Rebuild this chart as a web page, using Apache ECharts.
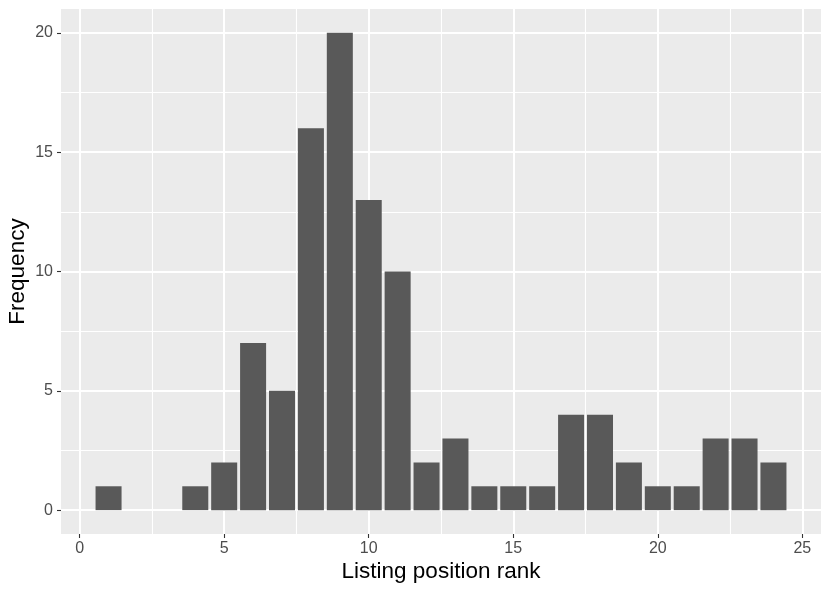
<!DOCTYPE html>
<html lang="en">
<head>
    <meta charset="UTF-8">
    <title>Listing position rank histogram</title>
    <script src="https://cdnjs.cloudflare.com/ajax/libs/echarts/6.0.0/echarts.min.js"></script>
    <style>
        body { margin: 0; background: #fff; }
        #chart { width: 830px; height: 593px; }
    </style>
</head>
<body>
<div id="chart"></div>
<script>
    // rank position -> how many listings
    const ranks = [1, 2, 3, 4, 5, 6, 7, 8, 9, 10, 11, 12, 13, 14, 15, 16, 17, 18, 19, 20, 21, 22, 23, 24];
    const counts = [1, 0, 0, 1, 2, 7, 5, 16, 20, 13, 10, 2, 3, 1, 1, 1, 4, 4, 2, 1, 1, 3, 3, 2];
    const xTicks = [0, 5, 10, 15, 20, 25];
    const xMinor = [2.5, 7.5, 12.5, 17.5, 22.5];
    const yTicks = [0, 5, 10, 15, 20];
    const yMinor = [2.5, 7.5, 12.5, 17.5];

    const chart = echarts.init(document.getElementById('chart'));
    const gridW = 760;
    const xMin = -0.645, xMax = 25.645;
    const unitPx = gridW / (xMax - xMin);
    const font = 'Liberation Sans, Arial, sans-serif';

    const labelStyle = { color: '#4d4d4d', fontSize: 16, fontFamily: font };
    const tickStyle = { show: true, length: 4, lineStyle: { color: '#333', width: 1.1 } };

    // grid lines drawn as markLines so they sit on the round values
    function gridLines(axis, values, width) {
        return values.map(v => ({ [axis]: v, lineStyle: { color: '#fff', width: width, type: 'solid' } }));
    }

    chart.setOption({
        animation: false,
        grid: {
            left: 61, top: 9, width: gridW, bottom: 59,
            backgroundColor: '#ebebeb', show: true, borderWidth: 0,
            containLabel: false, outerBoundsMode: 'none'
        },
        xAxis: {
            type: 'value', min: xMin, max: xMax, interval: 5,
            name: 'Listing position rank', nameLocation: 'middle', nameGap: 26, nameMoveOverlap: false,
            nameTextStyle: { color: '#000', fontSize: 22.5, fontFamily: font },
            axisLine: { show: false, onZero: false },
            axisTick: Object.assign({ customValues: xTicks }, tickStyle),
            axisLabel: Object.assign({ margin: 7, customValues: xTicks }, labelStyle),
            splitLine: { show: false }
        },
        yAxis: {
            type: 'value', min: -1, max: 21, interval: 5,
            name: 'Frequency', nameLocation: 'middle', nameGap: 32, nameMoveOverlap: false,
            nameTextStyle: { color: '#000', fontSize: 22.5, fontFamily: font },
            axisLine: { show: false, onZero: false },
            axisTick: Object.assign({ customValues: yTicks }, tickStyle),
            axisLabel: Object.assign({ margin: 8, customValues: yTicks }, labelStyle),
            splitLine: { show: false }
        },
        series: [{
            type: 'line',
            data: [],
            z: 1,
            silent: true,
            markLine: {
                silent: true,
                z: 1,
                symbol: ['none', 'none'],
                label: { show: false },
                animation: false,
                data: [].concat(
                    gridLines('xAxis', xMinor, 1.1),
                    gridLines('yAxis', yMinor, 1.1),
                    gridLines('xAxis', xTicks, 2),
                    gridLines('yAxis', yTicks, 2)
                )
            }
        }, {
            type: 'bar',
            z: 10,
            data: ranks.map((r, i) => [r, counts[i]]),
            barWidth: 0.9 * unitPx,
            itemStyle: { color: '#595959' }
        }]
    });
</script>
</body>
</html>
